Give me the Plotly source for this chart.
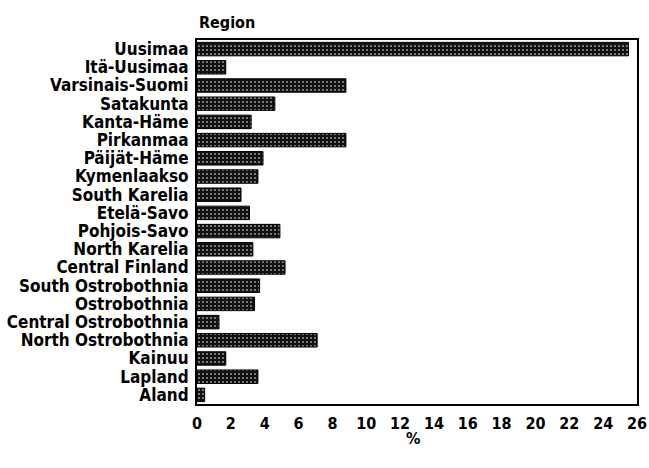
import plotly.graph_objects as go

regions = ["Uusimaa", "Itä-Uusimaa", "Varsinais-Suomi", "Satakunta", "Kanta-Häme",
           "Pirkanmaa", "Päijät-Häme", "Kymenlaakso", "South Karelia", "Etelä-Savo",
           "Pohjois-Savo", "North Karelia", "Central Finland", "South Ostrobothnia",
           "Ostrobothnia", "Central Ostrobothnia", "North Ostrobothnia", "Kainuu",
           "Lapland", "Aland"]
values = [25.5, 1.7, 8.8, 4.6, 3.2, 8.8, 3.9, 3.6, 2.6, 3.1,
          4.9, 3.3, 5.2, 3.7, 3.4, 1.3, 7.1, 1.7, 3.6, 0.45]
xticks = list(range(0, 27, 2))

FONT = "DejaVu Sans Condensed, Liberation Sans Narrow, sans-serif"

fig = go.Figure(go.Bar(
    x=values, y=regions, orientation="h",
    marker=dict(color="#111111", line=dict(color="#000000", width=1),
                pattern=dict(shape=".", fgcolor="#9a9a9a", bgcolor="#111111",
                             size=4, solidity=0.2)),
    width=0.74,
))

fig.update_layout(
    template="none",
    width=649, height=468,
    margin=dict(l=197, r=12, t=40, b=64),
    paper_bgcolor="white", plot_bgcolor="white",
    font=dict(family=FONT, size=16, color="black", weight="bold"),
    showlegend=False,
)
fig.update_xaxes(range=[0, 26], tickvals=xticks, ticktext=[str(t) for t in xticks],
                 showgrid=False, zeroline=False, showline=True, linecolor="black",
                 linewidth=2, mirror=True, ticks="", ticklabelstandoff=4,
                 ticklabeloverflow="allow",
                 automargin=False, tickfont=dict(size=16))
fig.update_yaxes(autorange="reversed", showgrid=False, zeroline=False, showline=True,
                 linecolor="black", linewidth=2, mirror=True, ticks="",
                 tickmode="array", tickvals=regions, ticktext=regions,
                 ticklabelstandoff=3, automargin=False, tickfont=dict(size=17))
fig.add_annotation(text="Region", xref="paper", yref="paper", x=0, y=1,
                   xanchor="left", yanchor="middle", yshift=18, showarrow=False,
                   font=dict(family=FONT, size=16, weight="bold"))
fig.add_annotation(text="%", xref="paper", yref="paper", x=0.49, y=0,
                   xanchor="center", yanchor="middle", yshift=-34, showarrow=False,
                   font=dict(family=FONT, size=16, weight="bold"))

fig.write_html(
    "out.html",
    config={"displayModeBar": False},
    post_script="document.body.style.margin='0';document.body.style.overflow='hidden';",
)
